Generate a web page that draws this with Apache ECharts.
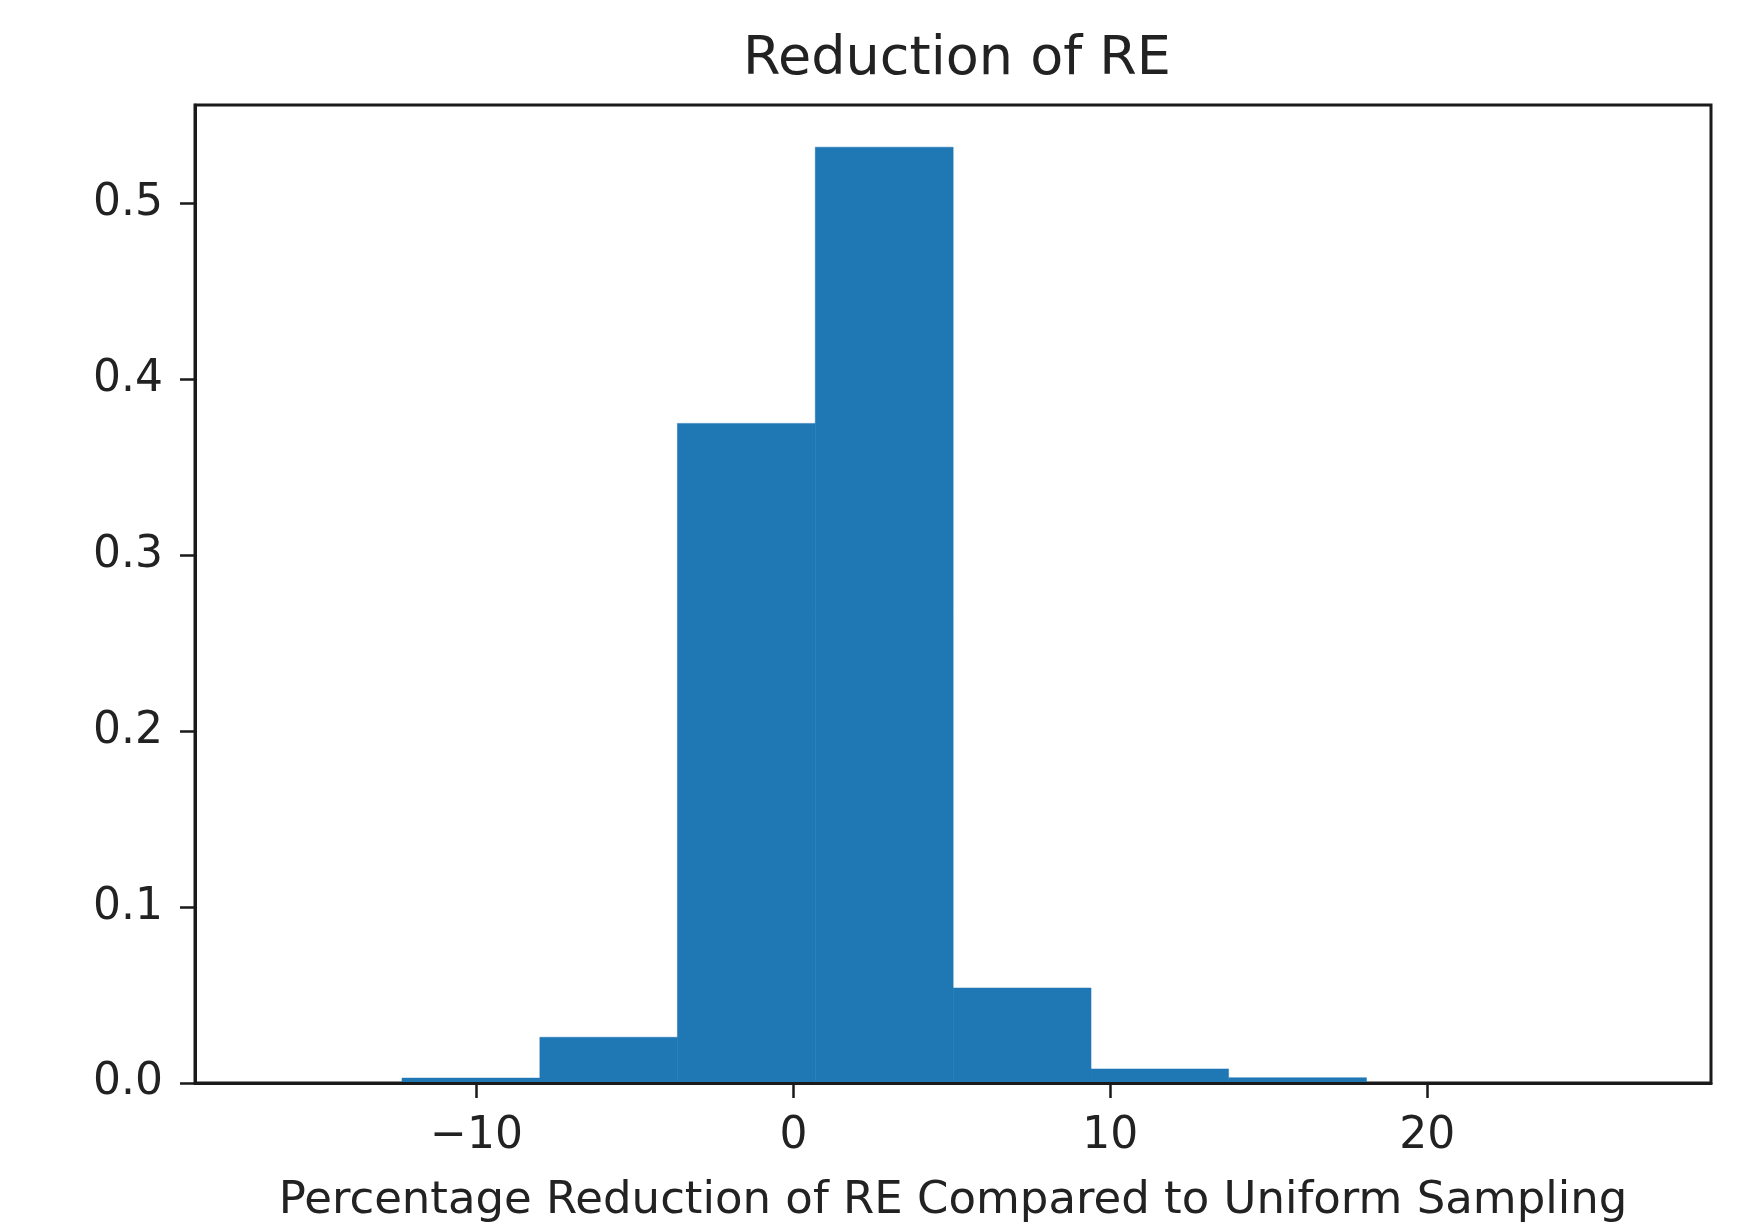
<!DOCTYPE html>
<html>
<head>
<meta charset="utf-8">
<script src="https://cdn.jsdelivr.net/npm/echarts@6/dist/echarts.min.js"></script>
<style>
html,body{margin:0;padding:0;background:#fff;}
#chart{width:1752px;height:1229px;}
</style>
</head>
<body>
<div id="chart"></div>
<script>
// Histogram bin edges (10 bins) and per-bin fractions
const binEdges = [-16.70, -12.35, -8.00, -3.66, 0.69, 5.04, 9.39, 13.73, 18.08, 22.43, 26.78];
const binHeights = [0.0003, 0.0028, 0.026, 0.375, 0.532, 0.054, 0.008, 0.003, 0.0003, 0.0003];
const xTicks = [-10, 0, 10, 20];
const yTicks = [0, 0.1, 0.2, 0.3, 0.4, 0.5];
const titleText = 'Reduction of RE';
const xLabel = 'Percentage Reduction of RE Compared to Uniform Sampling';

const histData = binHeights.map((h, i) => [binEdges[i], binEdges[i + 1], h]);

const chart = echarts.init(document.getElementById('chart'));
const font = 'DejaVu Sans';
chart.setOption({
  animation: false,
  backgroundColor: '#fff',
  title: {
    text: titleText,
    left: 952, top: 28, textAlign: 'center',
    textStyle: { fontFamily: font, fontSize: 54, fontWeight: 'normal', color: '#222' }
  },
  grid: {
    left: 195, right: 41, top: 105, bottom: 142,
    show: true, borderColor: '#1a1a1a', borderWidth: 3, backgroundColor: 'transparent'
  },
  xAxis: {
    type: 'value', min: -18.88, max: 28.95, z: 5,
    name: xLabel, nameLocation: 'middle', nameGap: 96,
    nameTextStyle: { fontFamily: font, fontSize: 45, color: '#222' },
    splitLine: { show: false },
    axisLine: { show: true, onZero: false, lineStyle: { color: '#1a1a1a', width: 3 } },
    axisTick: { show: true, length: 15, inside: false, lineStyle: { color: '#1a1a1a', width: 2.5 }, customValues: xTicks },
    axisLabel: {
      customValues: xTicks, margin: 32,
      fontFamily: font, fontSize: 44, color: '#222',
      formatter: v => String(v).replace('-', '\u2212')
    }
  },
  yAxis: {
    type: 'value', min: 0, max: 0.556, z: 5,
    splitLine: { show: false },
    axisLine: { show: true, onZero: false, lineStyle: { color: '#1a1a1a', width: 3 } },
    axisTick: { show: true, length: 15, inside: false, lineStyle: { color: '#1a1a1a', width: 2.5 }, customValues: yTicks },
    axisLabel: {
      customValues: yTicks, margin: 32,
      fontFamily: font, fontSize: 44, color: '#222',
      formatter: v => Number(v).toFixed(1)
    }
  },
  series: [{
    type: 'custom',
    data: histData,
    encode: { x: [0, 1], y: 2 },
    renderItem: function (params, api) {
      const p0 = api.coord([api.value(0), api.value(2)]);
      const p1 = api.coord([api.value(1), 0]);
      return {
        type: 'rect',
        shape: { x: p0[0], y: p0[1], width: p1[0] - p0[0], height: p1[1] - p0[1] },
        style: { fill: '#1f77b4', stroke: '#1f77b4', lineWidth: 0.5 }
      };
    }
  }]
});
</script>
</body>
</html>
